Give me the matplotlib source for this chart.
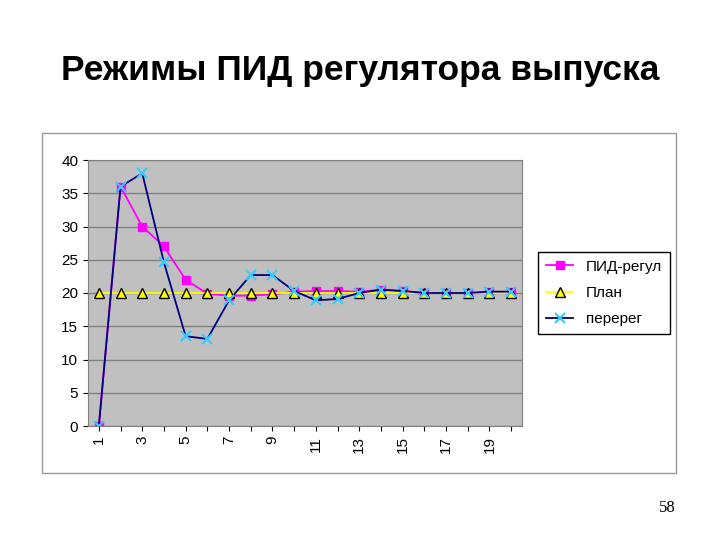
import matplotlib.pyplot as plt
from matplotlib.patches import Rectangle

x = list(range(1, 21))
pid = [0, 36, 30, 27, 22, 19.9, 19.6, 19.6, 19.8, 20.2, 20.3, 20.3, 20.2, 20.5, 20.3, 20, 20, 20, 20.1, 20.2]
plan = [20] * 20
overshoot = [0, 36, 38, 24.6, 13.5, 13.1, 18.9, 22.7, 22.7, 20.3, 18.9, 19.1, 20, 20.5, 20.3, 20, 20, 20, 20.2, 20.2]
xticklabels = [str(i) if i % 2 == 1 else '' for i in x]

fig = plt.figure(figsize=(7.2, 5.4), dpi=100)
fig.text(0.5, 0.87, 'Режимы ПИД регулятора выпуска', ha='center', va='center',
         fontsize=25.5, fontweight='bold', family='Liberation Sans')
box = Rectangle((42 / 720, 1 - 473 / 540), 634 / 720, 340 / 540,
                transform=fig.transFigure, facecolor='white',
                edgecolor='#999999', lw=1, zorder=-10)
fig.add_artist(box)
fig.text(676 / 720, 1 - 508 / 540, '58', ha='right', va='center', fontsize=12,
         family='Liberation Serif')

ax = fig.add_axes([88 / 720, 1 - 426 / 540, 434 / 720, 266 / 540])
ax.set_zorder(5)
ax.set_facecolor('#c0c0c0')
ax.plot(x, pid, color='magenta', marker='s', ms=6, lw=1.3, label='ПИД-регул')
ax.plot(x, plan, color='yellow', marker='^', ms=7, mec='black', lw=1.3, label='План')
ax.plot(x, overshoot, color='#000080', marker='x', ms=7, mew=1.5, mec='#33ccff',
        lw=1.3, label='перерег')
ax.set_xlim(0.5, 20.5)
ax.set_ylim(0, 40)
ax.set_yticks(range(0, 41, 5))
ax.yaxis.grid(True, color='#808080', lw=1)
ax.set_xticks(x)
ax.set_xticklabels(xticklabels, rotation=90, fontsize=11, family='Liberation Sans')
for t in ax.get_yticklabels():
    t.set_fontsize(11)
    t.set_family('Liberation Sans')
for s in ax.spines.values():
    s.set_color('#808080')
ax.legend(loc='center left', bbox_to_anchor=(1.02, 0.5), frameon=True, fancybox=False,
          edgecolor='black', prop={'family': 'Liberation Sans', 'size': 11}, borderpad=0.5,
          labelspacing=0.8, handlelength=1.8, framealpha=1)

fig.savefig('out.png', dpi=100)
